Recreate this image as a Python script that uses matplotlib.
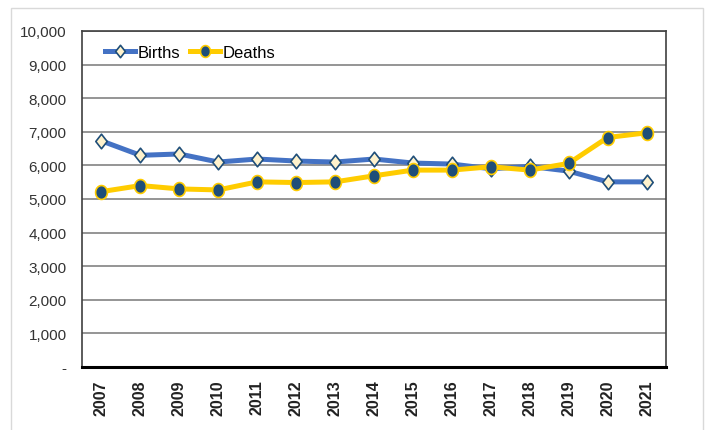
import matplotlib.pyplot as plt
import numpy as np
from matplotlib.path import Path
from matplotlib.patches import Rectangle
from matplotlib.ticker import FuncFormatter

years = ['2007', '2008', '2009', '2010', '2011', '2012', '2013', '2014',
         '2015', '2016', '2017', '2018', '2019', '2020', '2021']
births = [6730, 6300, 6340, 6100, 6190, 6130, 6100, 6190,
          6070, 6040, 5900, 5970, 5830, 5510, 5510]
deaths = [5220, 5400, 5300, 5270, 5510, 5490, 5510, 5690,
          5860, 5860, 5960, 5860, 6060, 6830, 6970]

narrow = ['Liberation Sans Narrow', 'Liberation Sans', 'DejaVu Sans']

# markers in the source look a bit squeezed sideways
diamond = Path([(0, 1), (0.78, 0), (0, -1), (-0.78, 0), (0, 1)],
               [Path.MOVETO, Path.LINETO, Path.LINETO, Path.LINETO, Path.CLOSEPOLY])
t = np.linspace(0, 2 * np.pi, 40)
ellipse = Path(np.column_stack([0.85 * np.cos(t), np.sin(t)]))

fig = plt.figure(figsize=(7.07, 4.31), dpi=100)
fig.patches.append(Rectangle((11 / 707, -0.05), 692 / 707, 1.05 - 9 / 431,
                             transform=fig.transFigure, fill=False,
                             edgecolor='#d9d9d9', linewidth=1))
ax = fig.add_axes([82 / 707, 63 / 431, 584 / 707, 336 / 431])

x = np.arange(len(years))
ax.plot(x, births, color='#4472C4', linewidth=3.6, marker=diamond,
        markersize=10.5, markerfacecolor='#FFF2CC', markeredgecolor='#1F4E79',
        markeredgewidth=1.2, label='Births', zorder=3)
ax.plot(x, deaths, color='#FFCC00', linewidth=3.6, marker=ellipse,
        markersize=10, markerfacecolor='#1F4E79', markeredgecolor='#FFCC00',
        markeredgewidth=1.2, label='Deaths', zorder=4)

ax.set_xlim(-0.5, len(years) - 0.5)
ax.set_ylim(0, 10000)
ax.set_yticks(range(0, 10001, 1000))
ax.yaxis.set_major_formatter(FuncFormatter(lambda v, p: '-' if v == 0 else f'{int(v):,}'))
ax.set_xticks(x)
ax.set_xticklabels(years, rotation=90, fontweight='bold', fontsize=11.5,
                   family=['Liberation Sans', 'DejaVu Sans'], color='#222222')
for lab in ax.get_yticklabels():
    lab.set_family(narrow)
    lab.set_fontsize(11)
    lab.set_color('#333333')
ax.tick_params(axis='both', length=0)
ax.tick_params(axis='y', pad=11)
ax.tick_params(axis='x', pad=9)

ax.grid(axis='y', color='#8c8c8c', linewidth=1.3)
ax.set_axisbelow(True)
for side in ['top', 'right', 'left']:
    ax.spines[side].set_color('#404040')
    ax.spines[side].set_linewidth(1.2)
ax.spines['bottom'].set_color('black')
ax.spines['bottom'].set_linewidth(2.2)

ax.legend(loc='center left', bbox_to_anchor=(23 / 584, 315 / 336), ncol=2,
          frameon=False, borderpad=0, borderaxespad=0, handlelength=1.8,
          handletextpad=0.15, columnspacing=0.6, numpoints=1,
          prop={'family': narrow, 'size': 12}, markerscale=0.85)

fig.savefig('out.png', dpi=100)
